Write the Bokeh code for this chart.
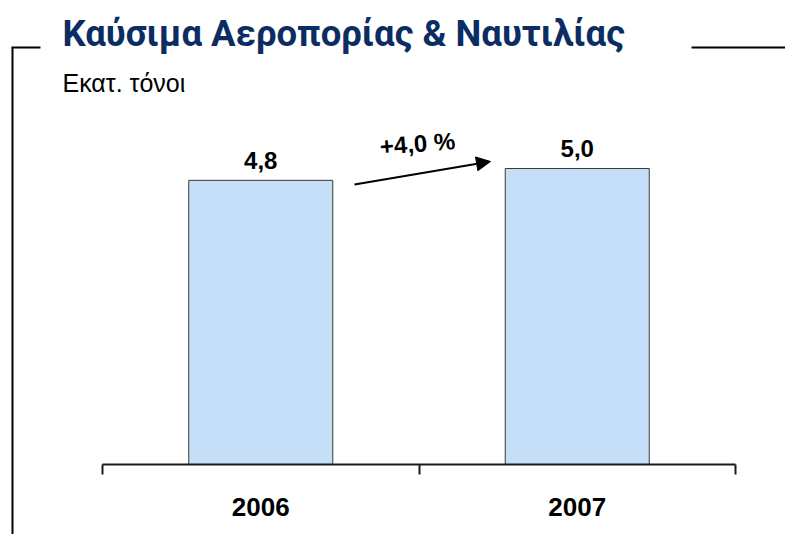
from bokeh.plotting import figure
from bokeh.models import (Range1d, LinearAxis, FixedTicker, Label, Arrow,
                          NormalHead, ColumnDataSource)
from bokeh.core.properties import value
from bokeh.embed import file_html
from bokeh.resources import INLINE

# ---- data ----
years = ["2006", "2007"]
volumes = [4.8, 5.0]
change_label = "+4,0 %"
title_text = "Καύσιμα Αεροπορίας & Ναυτιλίας"
unit_text = "Εκατ. τόνοι"

# ---- layout (pixels on the page) ----
W, H = 785, 534
AX_L, AX_R = 102, 735     # axis line extent
AX_Y = 464                # axis line y
PX_Y = 59.2               # pixels per data unit (y)
n = len(years)
xpx = (AX_R - AX_L) / n

NAVY = "#0b2d63"
BAR = "#c6dff9"

def dxs(sx):
    return (sx - AX_L) / xpx

def dys(sy):
    return (AX_Y - sy) / PX_Y

p = figure(width=W, height=H, output_backend="svg", toolbar_location=None,
           x_range=Range1d(dxs(0), dxs(W)), y_range=Range1d(dys(H), dys(0)),
           x_axis_location=None, y_axis_location=None,
           min_border_left=0, min_border_right=0,
           min_border_top=0, min_border_bottom=0)
p.outline_line_color = None
p.background_fill_color = "white"
p.border_fill_color = "white"
p.grid.visible = False

centers = [i + 0.5 for i in range(n)]

axis = LinearAxis(
    fixed_location=0,
    bounds=(0, n),
    ticker=FixedTicker(ticks=centers, minor_ticks=list(range(n + 1))),
    major_label_overrides={c: y for c, y in zip(centers, years)},
    major_tick_out=0, major_tick_in=0,
    minor_tick_out=10, minor_tick_in=0,
    axis_line_width=2, axis_line_color="#1a1a1a",
    minor_tick_line_width=2, minor_tick_line_color="#1a1a1a",
    major_label_text_font="Liberation Sans",
    major_label_text_font_size="26px",
    major_label_text_font_style="bold",
    major_label_text_color="black",
    major_label_standoff=23,
)
p.add_layout(axis, "below")

src = ColumnDataSource(dict(
    x=centers, top=volumes,
    lab=[f"{v:.1f}".replace(".", ",") for v in volumes],
))
p.vbar(x="x", top="top", width=0.455, bottom=0, source=src,
       fill_color=BAR, line_color="#3a3a3a", line_width=1)
p.text(x="x", y="top", text="lab", source=src, y_offset=-20,
       text_align="center", text_baseline="alphabetic",
       text_font=value("Liberation Sans"), text_font_style="bold",
       text_font_size="24px", text_color="black")

# frame lines around the title
for (x0, y0, x1, y1) in [(12, 47, 12, 540), (11, 47, 40, 47), (691, 47, 790, 47)]:
    p.add_layout(Arrow(x_start=dxs(x0), y_start=dys(y0), x_end=dxs(x1), y_end=dys(y1),
                       start=None, end=None, line_color="black", line_width=2))

# growth arrow
p.add_layout(Arrow(x_start=dxs(354), y_start=dys(184), x_end=dxs(490), y_end=dys(161),
                   line_color="black", line_width=2,
                   end=NormalHead(size=14, fill_color="black", line_color="black")))

p.add_layout(Label(x=dxs(417), y=dys(143), text=change_label, angle=0.08,
                   text_align="center", text_baseline="middle",
                   text_font="Liberation Sans", text_font_style="bold",
                   text_font_size="24px", text_color="black"))

p.add_layout(Label(x=dxs(62), y=dys(33), text=title_text,
                   text_align="left", text_baseline="alphabetic",
                   text_font="Roboto", text_font_style="bold",
                   text_font_size="36.5px", text_color=NAVY))

p.add_layout(Label(x=dxs(62), y=dys(82), text=unit_text,
                   text_align="left", text_baseline="alphabetic",
                   text_font="Liberation Sans",
                   text_font_size="25px", text_color="black"))

open("out.html", "w").write(file_html(p, INLINE))
